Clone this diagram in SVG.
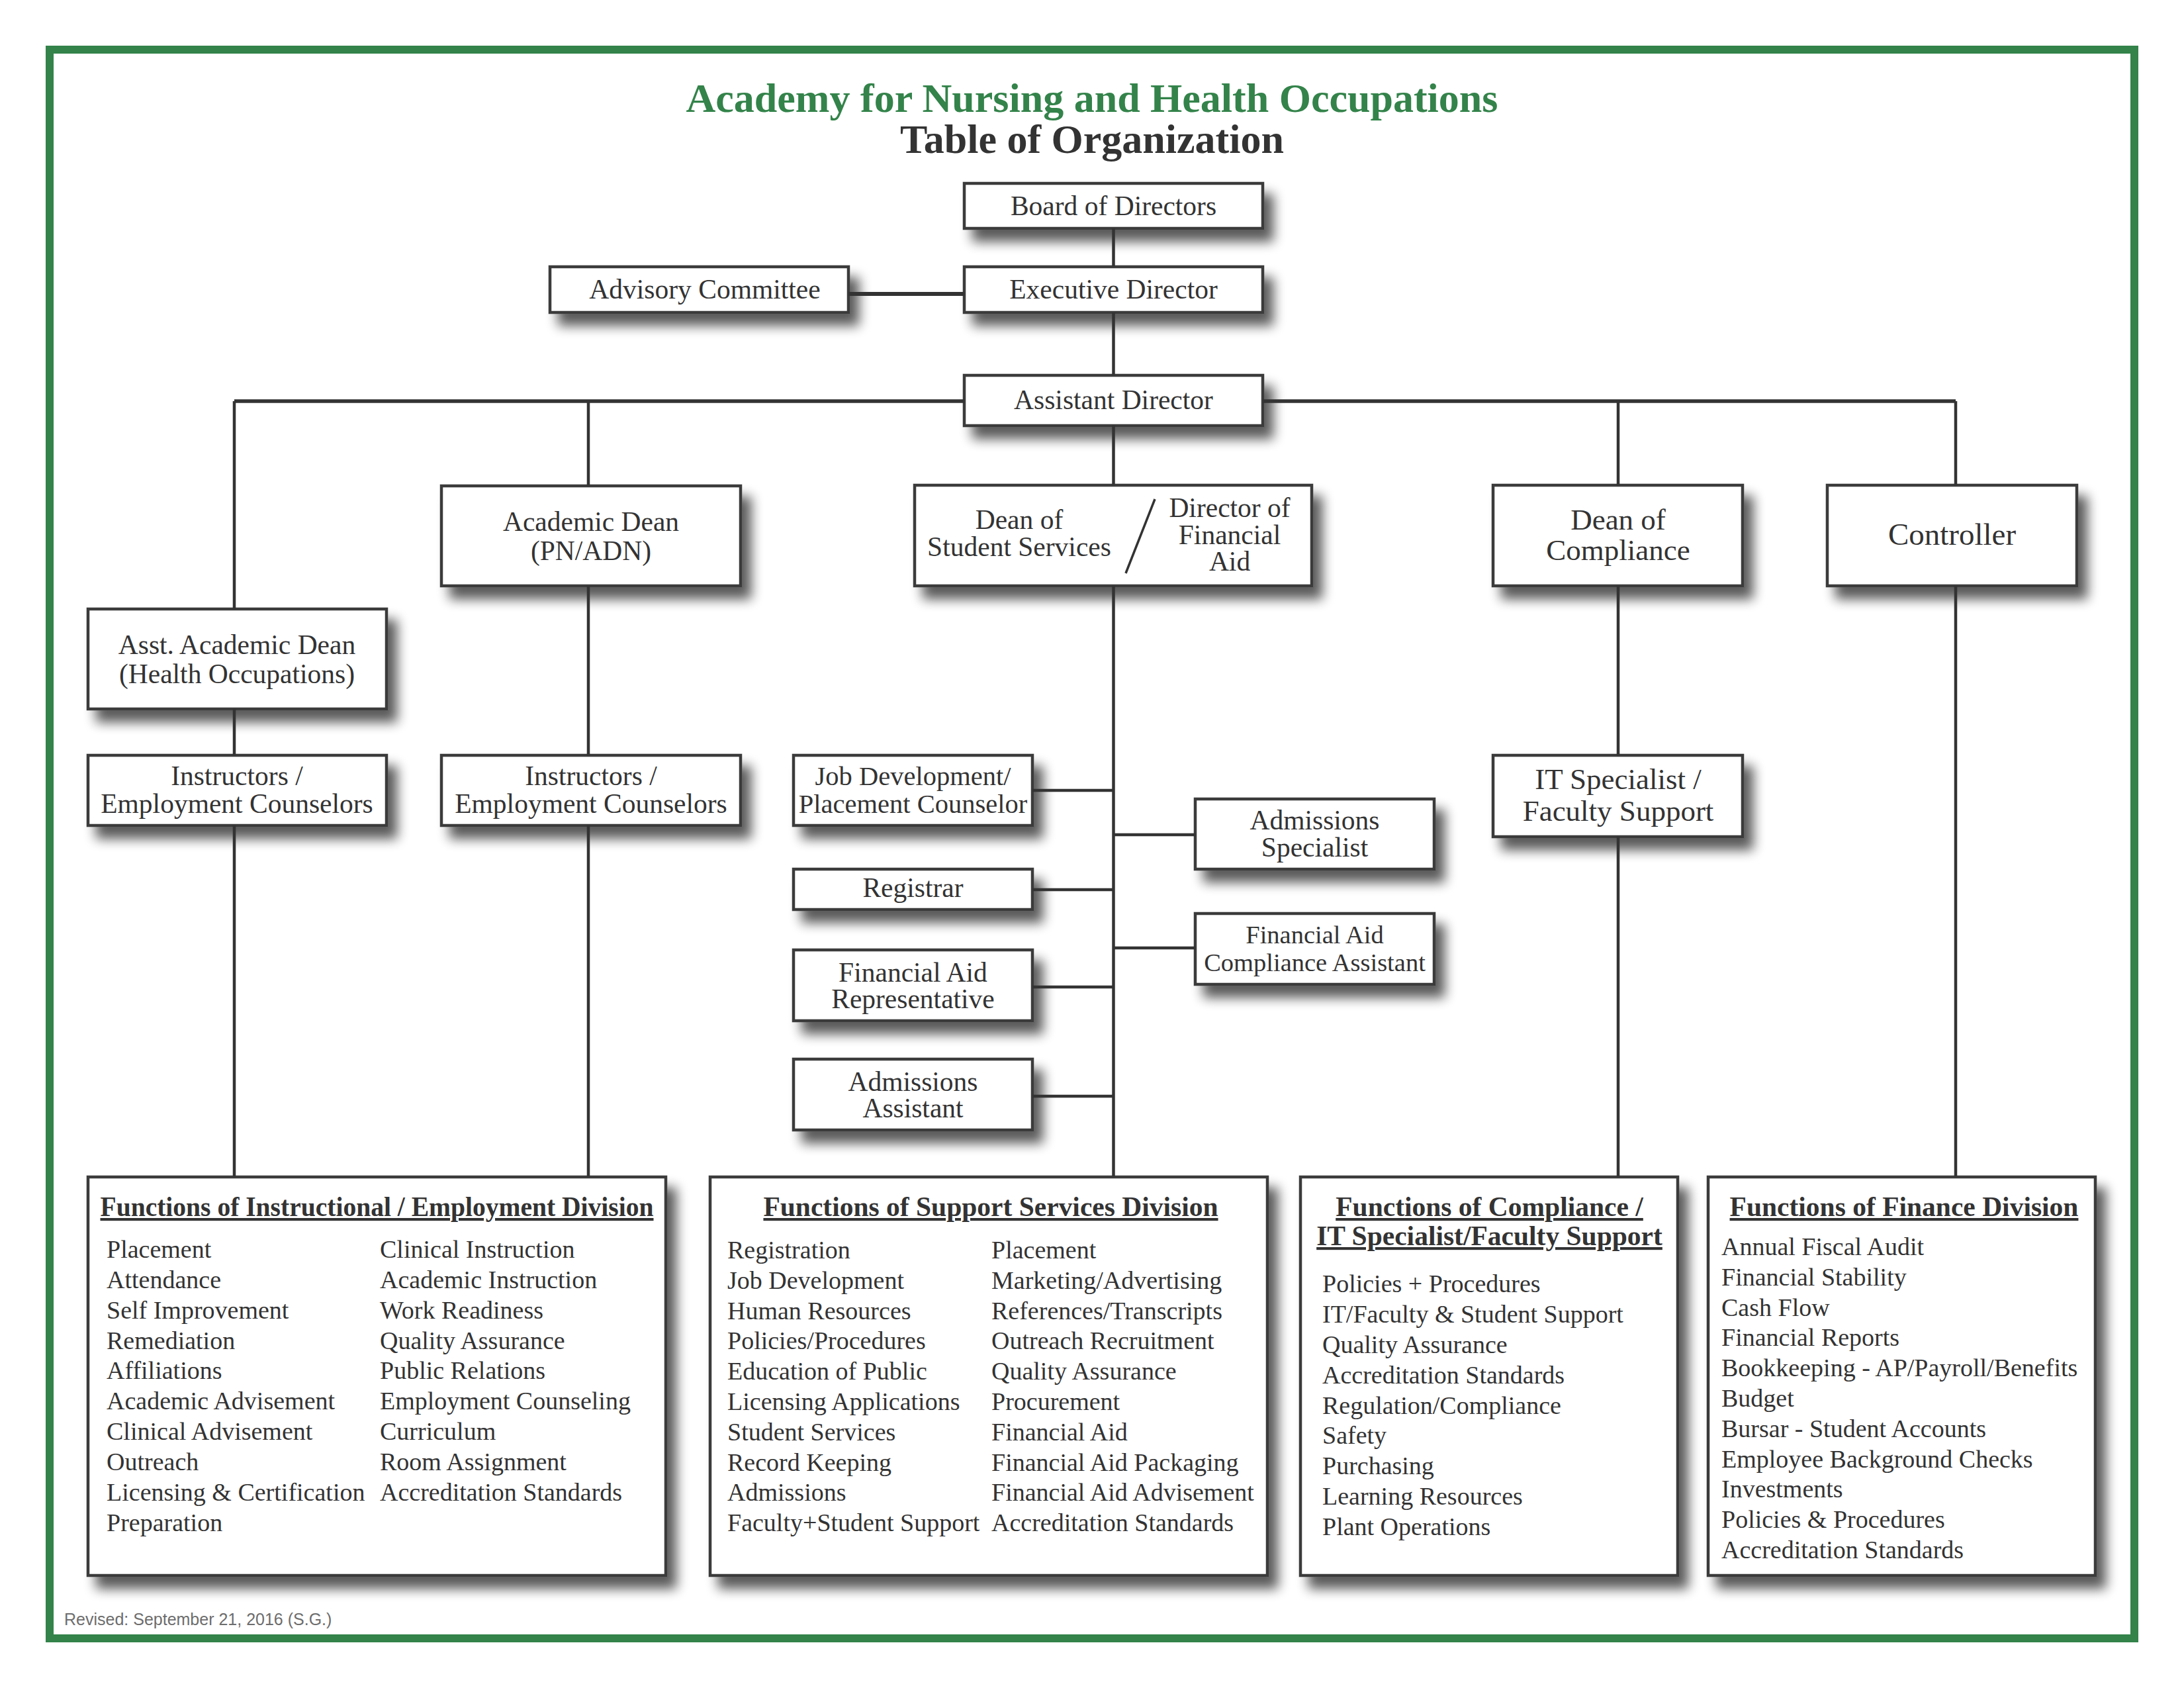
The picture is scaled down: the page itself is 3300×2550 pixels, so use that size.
<svg xmlns="http://www.w3.org/2000/svg" width="3300" height="2550" viewBox="0 0 3300 2550">
<defs>
<filter id="sh" x="-20%" y="-30%" width="150%" height="250%">
<feGaussianBlur in="SourceAlpha" stdDeviation="9"/>
<feOffset dx="14" dy="18" result="b"/>
<feComponentTransfer><feFuncA type="linear" slope="0.65"/></feComponentTransfer>
<feMerge><feMergeNode/><feMergeNode in="SourceGraphic"/></feMerge>
</filter>
<style>
.box{fill:#fff;stroke:#3a3a3a;stroke-width:4.5;filter:url(#sh)}
.t{font-family:"Liberation Serif","Times New Roman",serif;font-size:41.5px;fill:#333;text-anchor:middle}
.t45{font-size:45px}
.ft{font-family:"Liberation Serif","Times New Roman",serif;font-size:41.5px;font-weight:bold;fill:#333;text-anchor:middle;text-decoration:underline}
.it{font-family:"Liberation Serif","Times New Roman",serif;font-size:38px;fill:#333}
.c{stroke:#333;stroke-width:4.5;fill:none}
</style>
</defs>
<rect width="3300" height="2550" fill="#fff"/>
<rect x="75" y="75" width="3150" height="2400" fill="none" stroke="#33834a" stroke-width="12"/>
<text x="1650" y="169" font-family="Liberation Serif,'Times New Roman',serif" font-size="62" font-weight="bold" fill="#33834a" text-anchor="middle">Academy for Nursing and Health Occupations</text>
<text x="1650" y="231" font-family="Liberation Serif,'Times New Roman',serif" font-size="62" font-weight="bold" fill="#333" text-anchor="middle">Table of Organization</text>

<g id="board"><rect class="box" x="1457" y="277" width="451" height="68"/><text class="t" x="1682.5" y="325">Board of Directors</text></g>
<g id="advisory"><rect class="box" x="831" y="403" width="451" height="69"/><text class="t" x="1065" y="451">Advisory Committee</text></g>
<g id="executive"><rect class="box" x="1457" y="403" width="451" height="69"/><text class="t" x="1682.5" y="451">Executive Director</text></g>
<g id="assistant"><rect class="box" x="1457" y="567" width="451" height="76"/><text class="t" x="1682.5" y="618">Assistant Director</text></g>
<g id="academic-dean"><rect class="box" x="667" y="734" width="452" height="151"/><text class="t" x="893" y="802">Academic Dean</text><text class="t" x="893" y="846">(PN/ADN)</text></g>
<g id="dean-ss"><rect class="box" x="1382" y="733" width="600" height="152"/><text class="t" x="1540" y="799">Dean of</text><text class="t" x="1540" y="840">Student Services</text><line x1="1745" y1="754" x2="1701" y2="866" stroke="#333" stroke-width="3.5"/><text class="t" x="1858" y="781">Director of</text><text class="t" x="1858" y="822">Financial</text><text class="t" x="1858" y="862">Aid</text></g>
<g id="dean-compliance"><rect class="box" x="2256" y="733" width="377" height="152"/><text class="t t45" x="2445" y="800">Dean of</text><text class="t t45" x="2445" y="846">Compliance</text></g>
<g id="controller"><rect class="box" x="2761" y="733" width="377" height="152"/><text class="t" x="2949.5" y="823" style="font-size:47px">Controller</text></g>
<g id="asst-academic-dean"><rect class="box" x="133" y="920" width="451" height="151"/><text class="t" x="358" y="988">Asst. Academic Dean</text><text class="t" x="358" y="1032">(Health Occupations)</text></g>
<g id="instructors-1"><rect class="box" x="133" y="1141" width="451" height="106"/><text class="t" x="358" y="1186">Instructors /</text><text class="t" x="358" y="1228">Employment Counselors</text></g>
<g id="instructors-2"><rect class="box" x="667" y="1141" width="452" height="106"/><text class="t" x="893" y="1186">Instructors /</text><text class="t" x="893" y="1228">Employment Counselors</text></g>
<g id="job-dev"><rect class="box" x="1199" y="1141" width="361" height="106"/><text class="t" x="1379.5" y="1186" style="font-size:40.5px">Job Development/</text><text class="t" x="1379.5" y="1228" style="font-size:40.5px">Placement Counselor</text></g>
<g id="registrar"><rect class="box" x="1199" y="1313" width="361" height="61"/><text class="t" x="1379.5" y="1355">Registrar</text></g>
<g id="fa-rep"><rect class="box" x="1199" y="1435" width="361" height="107"/><text class="t" x="1379.5" y="1483">Financial Aid</text><text class="t" x="1379.5" y="1523">Representative</text></g>
<g id="adm-assistant"><rect class="box" x="1199" y="1600" width="361" height="107"/><text class="t" x="1379.5" y="1648">Admissions</text><text class="t" x="1379.5" y="1688">Assistant</text></g>
<g id="adm-specialist"><rect class="box" x="1806" y="1207" width="361" height="106"/><text class="t" x="1986.5" y="1253">Admissions</text><text class="t" x="1986.5" y="1294">Specialist</text></g>
<g id="fa-compliance"><rect class="box" x="1806" y="1380" width="361" height="107"/><text class="t" x="1986.5" y="1425" style="font-size:38.5px">Financial Aid</text><text class="t" x="1986.5" y="1467" style="font-size:38.5px">Compliance Assistant</text></g>
<g id="it-specialist"><rect class="box" x="2256" y="1141" width="377" height="123"/><text class="t t45" x="2445" y="1192">IT Specialist /</text><text class="t t45" x="2445" y="1240">Faculty Support</text></g>

<g id="fn-instructional"><rect class="box" x="133" y="1778" width="873" height="602"/>
<text class="ft" x="569.5" y="1837" textLength="836" lengthAdjust="spacingAndGlyphs">Functions of Instructional / Employment Division</text>
<text class="it" x="161"><tspan x="161" y="1900">Placement</tspan><tspan x="161" y="1946">Attendance</tspan><tspan x="161" y="1992">Self Improvement</tspan><tspan x="161" y="2038">Remediation</tspan><tspan x="161" y="2083">Affiliations</tspan><tspan x="161" y="2129">Academic Advisement</tspan><tspan x="161" y="2175">Clinical Advisement</tspan><tspan x="161" y="2221">Outreach</tspan><tspan x="161" y="2267">Licensing &amp; Certification</tspan><tspan x="161" y="2313">Preparation</tspan></text>
<text class="it" x="574"><tspan x="574" y="1900">Clinical Instruction</tspan><tspan x="574" y="1946">Academic Instruction</tspan><tspan x="574" y="1992">Work Readiness</tspan><tspan x="574" y="2038">Quality Assurance</tspan><tspan x="574" y="2083">Public Relations</tspan><tspan x="574" y="2129">Employment Counseling</tspan><tspan x="574" y="2175">Curriculum</tspan><tspan x="574" y="2221">Room Assignment</tspan><tspan x="574" y="2267">Accreditation Standards</tspan></text>
</g>
<g id="fn-support"><rect class="box" x="1073" y="1778" width="842" height="602"/>
<text class="ft" x="1497" y="1837">Functions of Support Services Division</text>
<text class="it" x="1099"><tspan x="1099" y="1901">Registration</tspan><tspan x="1099" y="1947">Job Development</tspan><tspan x="1099" y="1993">Human Resources</tspan><tspan x="1099" y="2038">Policies/Procedures</tspan><tspan x="1099" y="2084">Education of Public</tspan><tspan x="1099" y="2130">Licensing Applications</tspan><tspan x="1099" y="2176">Student Services</tspan><tspan x="1099" y="2222">Record Keeping</tspan><tspan x="1099" y="2267">Admissions</tspan><tspan x="1099" y="2313">Faculty+Student Support</tspan></text>
<text class="it" x="1498"><tspan x="1498" y="1901">Placement</tspan><tspan x="1498" y="1947">Marketing/Advertising</tspan><tspan x="1498" y="1993">References/Transcripts</tspan><tspan x="1498" y="2038">Outreach Recruitment</tspan><tspan x="1498" y="2084">Quality Assurance</tspan><tspan x="1498" y="2130">Procurement</tspan><tspan x="1498" y="2176">Financial Aid</tspan><tspan x="1498" y="2222">Financial Aid Packaging</tspan><tspan x="1498" y="2267">Financial Aid Advisement</tspan><tspan x="1498" y="2313">Accreditation Standards</tspan></text>
</g>
<g id="fn-compliance"><rect class="box" x="1965" y="1778" width="570" height="602"/>
<text class="ft" x="2250.5" y="1837">Functions of Compliance /</text>
<text class="ft" x="2250.5" y="1881">IT Specialist/Faculty Support</text>
<text class="it" x="1998"><tspan x="1998" y="1952">Policies + Procedures</tspan><tspan x="1998" y="1998">IT/Faculty &amp; Student Support</tspan><tspan x="1998" y="2044">Quality Assurance</tspan><tspan x="1998" y="2090">Accreditation Standards</tspan><tspan x="1998" y="2136">Regulation/Compliance</tspan><tspan x="1998" y="2181">Safety</tspan><tspan x="1998" y="2227">Purchasing</tspan><tspan x="1998" y="2273">Learning Resources</tspan><tspan x="1998" y="2319">Plant Operations</tspan></text>
</g>
<g id="fn-finance"><rect class="box" x="2581" y="1778" width="585" height="602"/>
<text class="ft" x="2877" y="1837">Functions of Finance Division</text>
<text class="it" x="2601"><tspan x="2601" y="1896">Annual Fiscal Audit</tspan><tspan x="2601" y="1942">Financial Stability</tspan><tspan x="2601" y="1988">Cash Flow</tspan><tspan x="2601" y="2033">Financial Reports</tspan><tspan x="2601" y="2079">Bookkeeping - AP/Payroll/Benefits</tspan><tspan x="2601" y="2125">Budget</tspan><tspan x="2601" y="2171">Bursar - Student Accounts</tspan><tspan x="2601" y="2217">Employee Background Checks</tspan><tspan x="2601" y="2262">Investments</tspan><tspan x="2601" y="2308">Policies &amp; Procedures</tspan><tspan x="2601" y="2354">Accreditation Standards</tspan></text>
</g>

<g id="connectors" class="c">
<line class="c" x1="1682.5" y1="345" x2="1682.5" y2="403"/>
<line class="c" x1="1682.5" y1="472" x2="1682.5" y2="567"/>
<line class="c" x1="1282" y1="444" x2="1457" y2="444" style="stroke-width:6"/>
<line class="c" x1="354" y1="606" x2="1457" y2="606" style="stroke-width:5.5"/>
<line class="c" x1="1908" y1="606" x2="2955" y2="606" style="stroke-width:5.5"/>
<line class="c" x1="354" y1="606" x2="354" y2="920"/>
<line class="c" x1="889" y1="606" x2="889" y2="734"/>
<line class="c" x1="1682.5" y1="643" x2="1682.5" y2="733"/>
<line class="c" x1="2445" y1="606" x2="2445" y2="733"/>
<line class="c" x1="2955" y1="606" x2="2955" y2="733"/>
<line class="c" x1="354" y1="1071" x2="354" y2="1141"/>
<line class="c" x1="354" y1="1247" x2="354" y2="1778"/>
<line class="c" x1="889" y1="885" x2="889" y2="1141"/>
<line class="c" x1="889" y1="1247" x2="889" y2="1778"/>
<line class="c" x1="1682.5" y1="885" x2="1682.5" y2="1778"/>
<line class="c" x1="1560" y1="1194" x2="1682.5" y2="1194"/>
<line class="c" x1="1682.5" y1="1261" x2="1806" y2="1261"/>
<line class="c" x1="1560" y1="1344" x2="1682.5" y2="1344"/>
<line class="c" x1="1682.5" y1="1432" x2="1806" y2="1432"/>
<line class="c" x1="1560" y1="1491" x2="1682.5" y2="1491"/>
<line class="c" x1="1560" y1="1656" x2="1682.5" y2="1656"/>
<line class="c" x1="2445" y1="885" x2="2445" y2="1141"/>
<line class="c" x1="2445" y1="1264" x2="2445" y2="1778"/>
<line class="c" x1="2955" y1="885" x2="2955" y2="1778"/>
</g>
<text x="97" y="2455" font-family="Liberation Sans,Arial,sans-serif" font-size="25" fill="#6d6d6d">Revised: September 21, 2016 (S.G.)</text>
</svg>
